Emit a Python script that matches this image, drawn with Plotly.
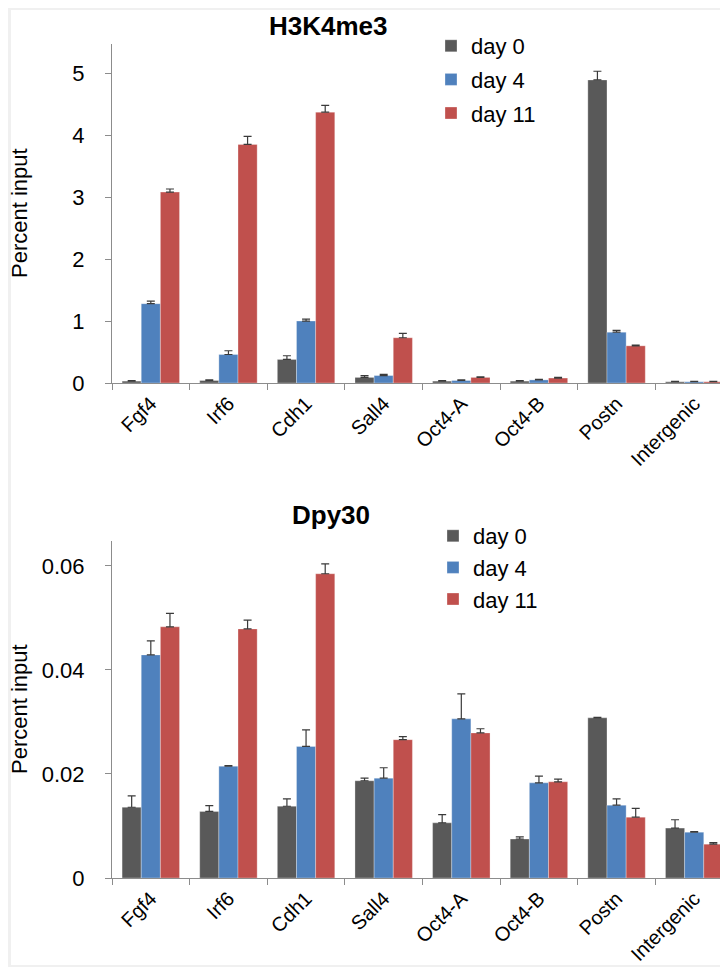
import plotly.graph_objects as go

categories = ["Fgf4", "Irf6", "Cdh1", "Sall4", "Oct4-A", "Oct4-B", "Postn", "Intergenic"]
series_names = ["day 0", "day 4", "day 11"]
colors = ["#595959", "#4f81bd", "#c0504d"]

# H3K4me3 (percent input)
h3_day0 = [0.03, 0.04, 0.38, 0.09, 0.03, 0.03, 4.89, 0.02]
h3_day4 = [1.28, 0.46, 1.00, 0.12, 0.04, 0.05, 0.82, 0.02]
h3_day11 = [3.08, 3.85, 4.37, 0.73, 0.09, 0.08, 0.60, 0.02]
h3_err0 = [0.01, 0.01, 0.06, 0.03, 0.01, 0.01, 0.14, 0.005]
h3_err4 = [0.04, 0.06, 0.03, 0.02, 0.01, 0.01, 0.03, 0.005]
h3_err11 = [0.05, 0.13, 0.11, 0.07, 0.01, 0.01, 0.01, 0.005]

# Dpy30 (percent input)
dp_day0 = [0.0136, 0.0128, 0.0138, 0.0187, 0.0106, 0.0075, 0.0308, 0.0096]
dp_day4 = [0.0429, 0.0215, 0.0253, 0.0192, 0.0306, 0.0183, 0.0140, 0.0088]
dp_day11 = [0.0483, 0.0479, 0.0585, 0.0266, 0.0279, 0.0185, 0.0117, 0.0065]
dp_err0 = [0.0022, 0.0011, 0.0014, 0.0005, 0.0016, 0.0004, 0.0001, 0.0016]
dp_err4 = [0.0027, 0.0001, 0.0032, 0.0020, 0.0048, 0.0013, 0.0012, 0.0001]
dp_err11 = [0.0026, 0.0017, 0.0019, 0.0006, 0.0008, 0.0005, 0.0017, 0.0003]

h3_tickvals = [0, 1, 2, 3, 4, 5]
dp_tickvals = [0, 0.02, 0.04, 0.06]
dp_ticktext = ["0", "0.02", "0.04", "0.06"]
y_title = "Percent input"

FONT = "Liberation Sans, Arial, sans-serif"

fig = go.Figure()

top_vals = [h3_day0, h3_day4, h3_day11]
top_errs = [h3_err0, h3_err4, h3_err11]
bot_vals = [dp_day0, dp_day4, dp_day11]
bot_errs = [dp_err0, dp_err4, dp_err11]

for i in range(3):
    fig.add_trace(go.Bar(
        x=categories, y=top_vals[i], name=series_names[i],
        marker=dict(color=colors[i], line=dict(color="rgba(255,255,255,0.6)", width=0.5)),
        error_y=dict(type="data", array=top_errs[i], symmetric=False, arrayminus=[0]*8,
                     color="#3a3a3a", thickness=1.2, width=4),
        xaxis="x", yaxis="y", legend="legend", legendgroup="t%d" % i,
    ))
for i in range(3):
    fig.add_trace(go.Bar(
        x=categories, y=bot_vals[i], name=series_names[i],
        marker=dict(color=colors[i], line=dict(color="rgba(255,255,255,0.6)", width=0.5)),
        error_y=dict(type="data", array=bot_errs[i], symmetric=False, arrayminus=[0]*8,
                     color="#3a3a3a", thickness=1.2, width=4),
        xaxis="x2", yaxis="y2", legend="legend2", legendgroup="b%d" % i,
    ))

W, H = 728, 967
L, R, T, B = 104, 3, 36, 97
pw = W - L - R
ph = H - T - B

def py(p):
    return (H - B - p) / ph

def px(p):
    return (p - L) / pw

axis_common = dict(
    showline=True, linecolor="#8c8c8c", linewidth=1, showgrid=False, zeroline=False,
    ticks="outside", tickcolor="#8c8c8c", ticklen=6,
)
ytickfont = dict(family=FONT, size=22, color="#000")
xtickfont = dict(family=FONT, size=20, color="#000")
titlefont = dict(family=FONT, size=22, color="#000")

fig.update_layout(
    width=W, height=H,
    margin=dict(l=L, r=R, t=T, b=B, autoexpand=False),
    paper_bgcolor="#f0f0f0", plot_bgcolor="white",
    font=dict(family=FONT, color="#000"),
    barmode="group", bargap=0.26, bargroupgap=0,
    showlegend=True,
    xaxis=dict(domain=[0, 1], anchor="y", tickson="boundaries", tickangle=-45,
               tickfont=xtickfont, automargin=False, **axis_common),
    yaxis=dict(domain=[py(375), 1], anchor="x", range=[0, 5.47], tickvals=h3_tickvals,
               ticklabelstandoff=16, tickfont=ytickfont, automargin=False,
               **axis_common),
    xaxis2=dict(domain=[0, 1], anchor="y2", tickson="boundaries", tickangle=-45,
                tickfont=xtickfont, automargin=False, **axis_common),
    yaxis2=dict(domain=[0, py(533)], anchor="x2", range=[0, 0.0648], tickvals=dp_tickvals,
                ticktext=dp_ticktext, ticklabelstandoff=16, tickfont=ytickfont, automargin=False,
                **axis_common),
    legend=dict(x=px(423), y=py(17), xanchor="left", yanchor="top",
                font=dict(family=FONT, size=22), bgcolor="rgba(0,0,0,0)",
                tracegroupgap=2, itemwidth=30),
    legend2=dict(x=px(425), y=py(507), xanchor="left", yanchor="top",
                 font=dict(family=FONT, size=22), bgcolor="rgba(0,0,0,0)",
                 tracegroupgap=0, itemwidth=30),
    annotations=[
        dict(text="<b>H3K4me3</b>", x=px(320), y=py(18), xref="paper", yref="paper",
             showarrow=False, font=dict(family=FONT, size=26), xanchor="center", yanchor="middle"),
        dict(text="<b>Dpy30</b>", x=px(323), y=py(507), xref="paper", yref="paper",
             showarrow=False, font=dict(family=FONT, size=26), xanchor="center", yanchor="middle"),
        dict(text=y_title, textangle=-90, x=px(12), y=py(205), xref="paper", yref="paper",
             showarrow=False, font=titlefont, xanchor="center", yanchor="middle"),
        dict(text=y_title, textangle=-90, x=px(11), y=py(701), xref="paper", yref="paper",
             showarrow=False, font=titlefont, xanchor="center", yanchor="middle"),
    ],
    shapes=[
        dict(type="rect", xref="paper", yref="paper", x0=px(3), x1=px(726), y0=py(957), y1=py(2),
             fillcolor="white", line=dict(width=0), layer="below"),
    ],
)

fig.write_html("out.html")
